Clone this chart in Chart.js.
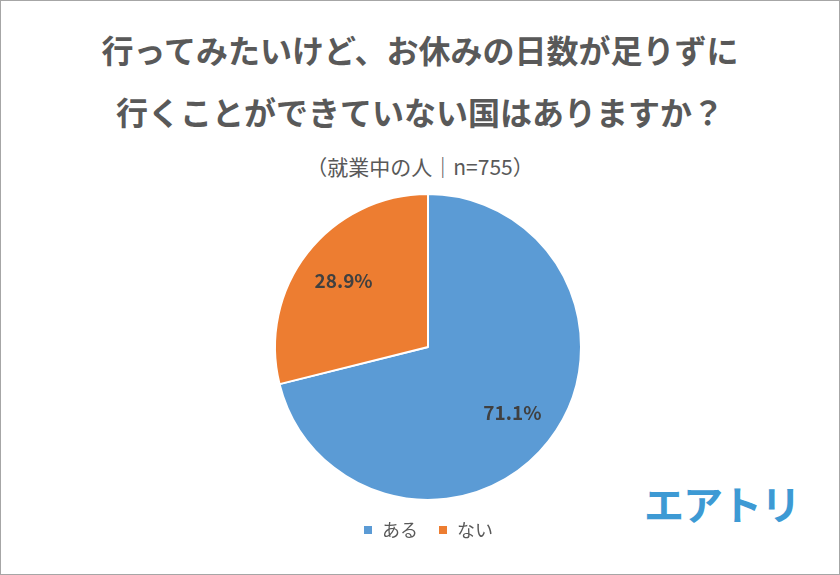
<!DOCTYPE html>
<html>
<head>
<meta charset="utf-8">
<script src="https://cdn.jsdelivr.net/npm/chart.js@4"></script>
<style>
  body { margin: 0; background: #fff; font-family: "Noto Sans CJK JP", sans-serif; }
  #frame { position: absolute; left: 0; top: 0; width: 838px; height: 573px; border: 1px solid #a6a6a6; }
  .title { position: absolute; left: 0; width: 840px; text-align: center; color: #595959; font-weight: bold; font-size: 32px; }
  #sub { position: absolute; left: 0; width: 840px; text-align: center; color: #595959; font-size: 21px; top: 151px; }
  #logo { position: absolute; left: 644px; top: 474px; color: #3d9ad4; font-weight: bold; font-size: 40px; letter-spacing: -1px; }
  #wrap { position: absolute; left: 0; top: 190px; width: 840px; height: 370px; }
</style>
</head>
<body>
<div id="frame"></div>
<div class="title" style="top:26px">行ってみたいけど、お休みの日数が足りずに</div>
<div class="title" style="top:88px">行くことができていない国はありますか？</div>
<div id="sub">（就業中の人｜n=755）</div>
<div id="logo">エアトリ</div>
<div id="wrap"><canvas id="chart"></canvas></div>
<script>
// data
const categories = ["ある", "ない"];
const values = [71.1, 28.9];
const colors = ["#5b9bd5", "#ed7d31"];

// percentage labels inside slices
const sliceLabels = {
  id: "sliceLabels",
  afterDatasetsDraw(chart) {
    const ctx = chart.ctx;
    chart.getDatasetMeta(0).data.forEach((arc, i) => {
      const p = arc.getProps(["x", "y", "startAngle", "endAngle", "outerRadius"], true);
      const a = (p.startAngle + p.endAngle) / 2;
      const r = p.outerRadius * 0.7;
      ctx.save();
      ctx.font = "bold 19px 'Noto Sans CJK JP', sans-serif";
      ctx.fillStyle = "#404040";
      ctx.textAlign = "center";
      ctx.textBaseline = "middle";
      ctx.fillText(values[i].toFixed(1) + "%", p.x + Math.cos(a) * r, p.y + Math.sin(a) * r);
      ctx.restore();
    });
  }
};

new Chart(document.getElementById("chart"), {
  type: "pie",
  data: {
    labels: categories,
    datasets: [{
      data: values,
      backgroundColor: colors,
      borderColor: "#fff",
      borderWidth: 2
    }]
  },
  options: {
    responsive: true,
    maintainAspectRatio: false,
    animation: false,
    layout: { padding: { top: 3, bottom: 11, left: 16 } },
    plugins: {
      tooltip: { enabled: false },
      legend: {
        position: "bottom",
        labels: {
          boxWidth: 10,
          boxHeight: 10,
          color: "#595959",
          font: { size: 18, family: "'Noto Sans CJK JP', sans-serif" },
          padding: 20
        }
      }
    }
  },
  plugins: [sliceLabels]
});
</script>
</body>
</html>
